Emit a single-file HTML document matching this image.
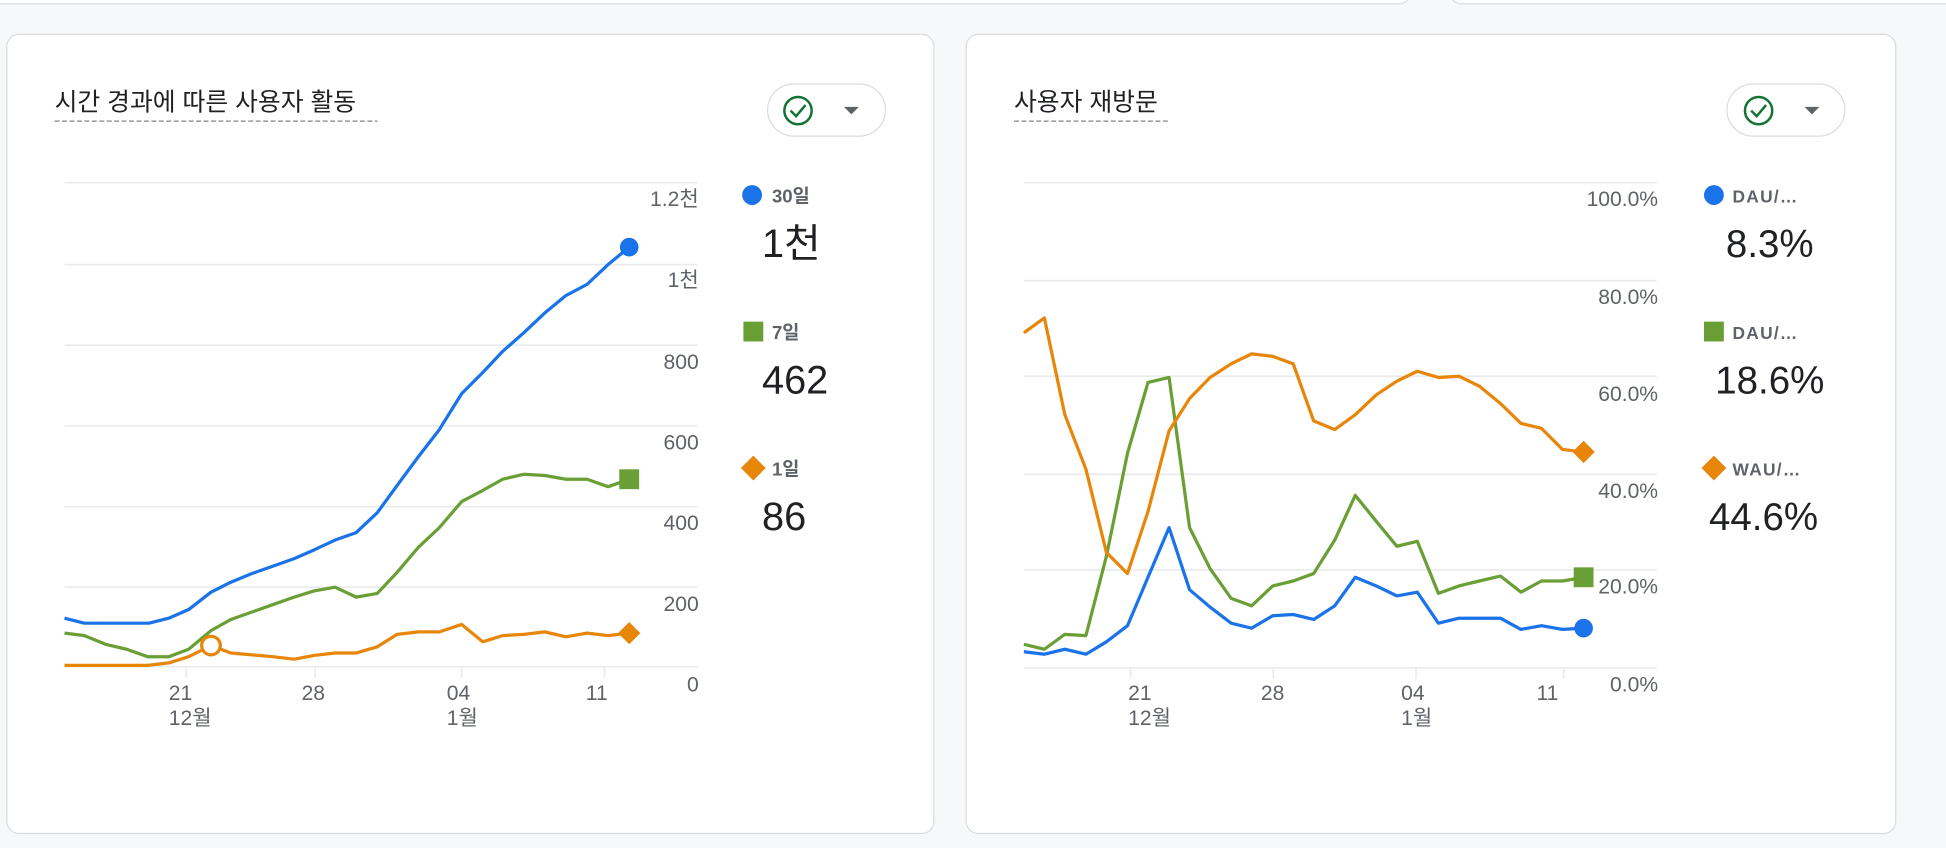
<!DOCTYPE html>
<html><head><meta charset="utf-8"><style>
html,body{margin:0;padding:0;background:#f7f8fa;}
svg{display:block}
text{font-family:"Liberation Sans","Noto Sans CJK KR",sans-serif;}
</style></head><body>
<svg width="1946" height="848" viewBox="0 0 1568 683" xmlns="http://www.w3.org/2000/svg">
<rect x="0" y="0" width="1568" height="683" fill="#f7f8fa"/>
<rect x="-20" y="-30" width="1157" height="33" rx="10" fill="#fff" stroke="#dadce0"/>
<rect x="1168" y="-30" width="420" height="33" rx="10" fill="#fff" stroke="#dadce0"/>
<rect x="5.5" y="27.5" width="747" height="644" rx="10" fill="#fff" stroke="#dadce0"/>
<rect x="778.5" y="27.5" width="749" height="644" rx="10" fill="#fff" stroke="#dadce0"/>

<!-- CARD 1 -->
<text x="44" y="89" font-size="20" fill="#202124">시간 경과에 따른 사용자 활동</text>
<line x1="44" y1="97.5" x2="304" y2="97.5" stroke="#80868b" stroke-dasharray="4,2"/>
<rect x="618.5" y="67.5" width="95" height="42" rx="21" fill="#fff" stroke="#dadce0"/>
<circle cx="643" cy="89" r="11" fill="none" stroke="#137333" stroke-width="2"/>
<polyline points="637,89 641.5,93.5 649,84.5" fill="none" stroke="#137333" stroke-width="2"/>
<polygon points="680,86 692,86 686,92" fill="#5f6368"/>
<g stroke="#e8eaed" stroke-width="1.3">
<line x1="52" y1="147" x2="562" y2="147"/><line x1="52" y1="213" x2="562" y2="213"/>
<line x1="52" y1="278" x2="562" y2="278"/><line x1="52" y1="343" x2="562" y2="343"/>
<line x1="52" y1="408" x2="562" y2="408"/><line x1="52" y1="473" x2="562" y2="473"/>
<line x1="52" y1="537" x2="562" y2="537"/>
<line x1="150" y1="537" x2="150" y2="546"/><line x1="254" y1="537" x2="254" y2="546"/>
<line x1="372" y1="537" x2="372" y2="546"/><line x1="487" y1="537" x2="487" y2="546"/>
</g>
<g font-size="17" fill="#5f6368" text-anchor="end">
<text x="563" y="166">1.2천</text><text x="563" y="231">1천</text><text x="563" y="297">800</text>
<text x="563" y="362">600</text><text x="563" y="427">400</text><text x="563" y="492">200</text>
<text x="563" y="557">0</text>
</g>
<g font-size="17" fill="#5f6368">
<text x="136" y="564">21</text><text x="136" y="584">12월</text>
<text x="243" y="564">28</text>
<text x="360" y="564">04</text><text x="360" y="584">1월</text>
<text x="472" y="564">11</text>
</g>
<g fill="none" stroke-width="2.6" stroke-linejoin="round">
<polyline stroke="#1a73e8" points="52,498 68,502 120,502 136,498 152,491 170,477 186,469 203,462 220,456 237,450 253,443 270,435 287,429 304,413 320,391 337,368 354,346 372,317 389,300 405,283 422,268 439,252 456,238 473,229 490,213 507,199"/>
<polyline stroke="#6a9f35" points="52,510 68,512 85,519 102,523 119,529 136,529 152,523 170,508 186,499 203,493 220,487 237,481 253,476 270,473 287,481 304,478 320,461 337,441 354,425 372,404 389,395 405,386 422,382 439,383 456,386 473,386 490,392 507,386"/>
<polyline stroke="#e8860a" points="52,536 119,536 136,534 152,529 170,520 186,526 220,529 237,531 253,528 270,526 287,526 304,521 320,511 337,509 354,509 372,503 389,517 405,512 422,511 439,509 456,513 473,510 490,512 507,510"/>
</g>
<circle cx="170" cy="520" r="7.5" fill="#fff" stroke="#e8860a" stroke-width="2.6"/>
<circle cx="507" cy="199" r="7.5" fill="#1a73e8"/>
<rect x="499" y="378" width="16" height="16" fill="#6a9f35"/>
<polygon points="507,501 516,510 507,519 498,510" fill="#e8860a"/>
<circle cx="606" cy="157" r="8" fill="#1a73e8"/>
<text x="622" y="163" font-size="15" fill="#5f6368" font-weight="bold">30일</text>
<text x="614" y="207" font-size="32" fill="#202124">1천</text>
<rect x="599" y="259" width="16" height="16" fill="#6a9f35"/>
<text x="622" y="273" font-size="15" fill="#5f6368" font-weight="bold">7일</text>
<text x="614" y="317" font-size="32" fill="#202124">462</text>
<polygon points="607,367 617,377 607,387 597,377" fill="#e8860a"/>
<text x="622" y="383" font-size="15" fill="#5f6368" font-weight="bold">1일</text>
<text x="614" y="427" font-size="32" fill="#202124">86</text>

<!-- CARD 2 -->
<text x="817" y="89" font-size="20" fill="#202124">사용자 재방문</text>
<line x1="817" y1="97.5" x2="942" y2="97.5" stroke="#80868b" stroke-dasharray="4,2"/>
<rect x="1391.5" y="67.5" width="95" height="42" rx="21" fill="#fff" stroke="#dadce0"/>
<circle cx="1417" cy="89" r="11" fill="none" stroke="#137333" stroke-width="2"/>
<polyline points="1411,89 1415.5,93.5 1423,84.5" fill="none" stroke="#137333" stroke-width="2"/>
<polygon points="1454,86 1466,86 1460,92" fill="#5f6368"/>
<g stroke="#e8eaed" stroke-width="1.3">
<line x1="825" y1="147" x2="1335" y2="147"/><line x1="825" y1="226" x2="1335" y2="226"/>
<line x1="825" y1="303" x2="1335" y2="303"/><line x1="825" y1="382" x2="1335" y2="382"/>
<line x1="825" y1="459" x2="1335" y2="459"/><line x1="825" y1="538" x2="1335" y2="538"/>
<line x1="911" y1="538" x2="911" y2="547"/><line x1="1026" y1="538" x2="1026" y2="547"/>
<line x1="1141" y1="538" x2="1141" y2="547"/><line x1="1260" y1="538" x2="1260" y2="547"/>
</g>
<g font-size="17" fill="#5f6368" text-anchor="end">
<text x="1336" y="166">100.0%</text><text x="1336" y="245">80.0%</text><text x="1336" y="323">60.0%</text>
<text x="1336" y="401">40.0%</text><text x="1336" y="478">20.0%</text><text x="1336" y="557">0.0%</text>
</g>
<g font-size="17" fill="#5f6368">
<text x="909" y="564">21</text><text x="909" y="584">12월</text>
<text x="1016" y="564">28</text>
<text x="1129" y="564">04</text><text x="1129" y="584">1월</text>
<text x="1238" y="564">11</text>
</g>
<g fill="none" stroke-width="2.6" stroke-linejoin="round">
<polyline stroke="#6a9f35" points="825,519 841.5,523 858,511 875,512 891.5,448 908.5,365 925,308 942,304 958.5,425 975,458 992,482 1008.5,488 1025.5,472 1042,468 1058.5,462 1075.5,435 1092,399 1109,420 1125.5,440 1142,436 1159,478 1175.5,472 1192,468 1209,464 1225.5,477 1242,468 1259,468 1276.5,465"/>
<polyline stroke="#e8860a" points="825,268 841.5,256 858,334 875,378 891.5,445 908.5,462 925,412 942,347 958.5,321 975,304 992,293 1008.5,285 1025.5,287 1042,293 1058.5,339 1075.5,346 1092,334 1109,318 1125.5,307 1142,299 1159,304 1175.5,303 1192,311 1209,325 1225.5,341 1242,345 1259,362 1276.5,364"/>
<polyline stroke="#1a73e8" points="825,525 841.5,527 858,523 875,527 891.5,517 908.5,504 925,465 942,425 958.5,475 975,489 992,502 1008.5,506 1025.5,496 1042,495 1058.5,499 1075.5,488 1092,465 1109,472 1125.5,480 1142,477 1159,502 1175.5,498 1192,498 1209,498 1225.5,507 1242,504 1259,507 1276.5,506"/>
</g>
<circle cx="1276" cy="506" r="7.5" fill="#1a73e8"/>
<rect x="1268" y="457" width="16" height="16" fill="#6a9f35"/>
<polygon points="1276,355 1285,364 1276,373 1267,364" fill="#e8860a"/>
<circle cx="1381" cy="157" r="8" fill="#1a73e8"/>
<text x="1396" y="163" font-size="14" fill="#5f6368" font-weight="bold" letter-spacing="1">DAU/…</text>
<text x="1426" y="207" font-size="31" fill="#202124" text-anchor="middle">8.3%</text>
<rect x="1373" y="259" width="16" height="16" fill="#6a9f35"/>
<text x="1396" y="273" font-size="14" fill="#5f6368" font-weight="bold" letter-spacing="1">DAU/…</text>
<text x="1426" y="317" font-size="31" fill="#202124" text-anchor="middle">18.6%</text>
<polygon points="1381,367 1391,377 1381,387 1371,377" fill="#e8860a"/>
<text x="1396" y="383" font-size="14" fill="#5f6368" font-weight="bold" letter-spacing="1">WAU/…</text>
<text x="1421" y="427" font-size="31" fill="#202124" text-anchor="middle">44.6%</text>
</svg>
</body></html>
